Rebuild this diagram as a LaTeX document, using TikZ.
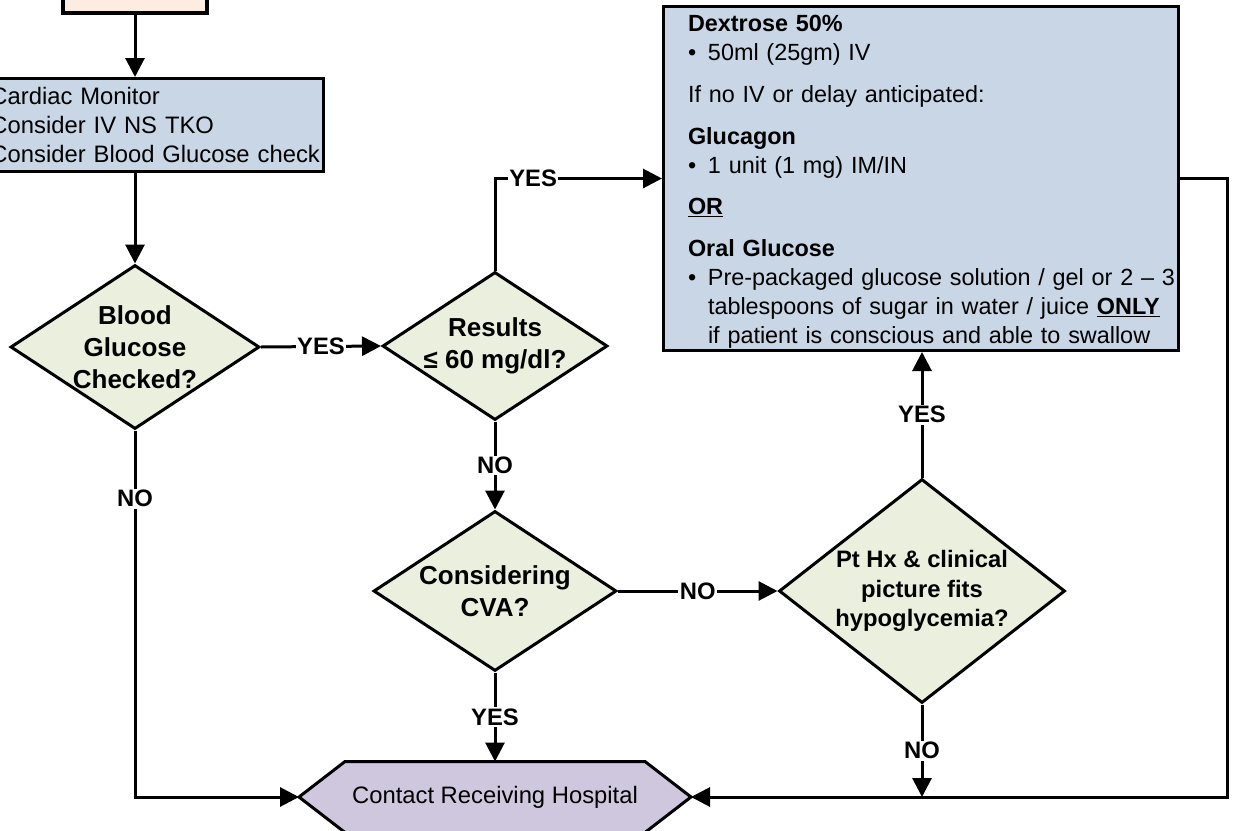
\documentclass[tikz,border=0pt]{standalone}
\usepackage{fontspec}
\setmainfont{Liberation Sans}
\usetikzlibrary{shapes.geometric,arrows.meta,backgrounds}

\definecolor{peach}{RGB}{253,236,224}
\definecolor{actblue}{RGB}{201,214,230}
\definecolor{askgreen}{RGB}{235,240,222}
\definecolor{lilac}{RGB}{207,199,222}

% bullet
\newcommand{\bul}{\noindent\makebox[20pt][l]{\textbullet}}

\begin{document}
\begin{tikzpicture}[x=1pt, y=-1pt,
    every node/.style={font=\fontsize{23.8}{28.8}\selectfont},
    box/.style={draw, line width=3pt, fill=actblue},
    decision/.style={diamond, draw, line width=3pt, fill=askgreen, inner sep=-4pt, align=center,
      font=\fontsize{26}{32}\selectfont\bfseries},
    answer/.style={fill=white, inner sep=1.5pt, font=\fontsize{23.8}{28}\selectfont\bfseries},
    flow/.style={line width=3pt, -{Triangle[length=19pt,width=19pt]}}]

  \useasboundingbox (0,0) rectangle (1234,830);

  \node[draw, line width=4pt, fill=peach, minimum width=144pt, minimum height=60pt, anchor=south] (start) at (135,15) {};

  \node[box, anchor=east, text width=330pt, inner xsep=3pt, minimum height=93pt, align=left,
    font=\fontsize{23.8}{29}\selectfont] (info) at (325,125)
    {Cardiac Monitor\\Consider IV NS TKO\\Consider Blood Glucose check};

  \node[decision, minimum width=249pt, minimum height=164pt, shape aspect=1.52] (bgc) at (135,347) {Blood\\Glucose\\Checked?};
  \node[decision, minimum width=225pt, minimum height=148pt, shape aspect=1.52] (res) at (495,346) {Results\\≤ 60 mg/dl?};
  \node[decision, minimum width=243pt, minimum height=160pt, shape aspect=1.52] (cva) at (495,591) {Considering\\CVA?};
  \node[decision, minimum width=286pt, minimum height=224pt, shape aspect=1.28,
    font=\fontsize{23.8}{29.5}\selectfont\bfseries] (pt) at (922,591)
    {Pt Hx \& clinical\\picture fits\\hypoglycemia?};

  \node[box, anchor=north west, text width=512pt, inner xsep=1.5pt, inner ysep=0pt, minimum height=344pt, align=left,
    font=\fontsize{23.4}{28.8}\selectfont] (dex) at (662,5)
    {\leftskip=23pt
     \rule{0pt}{23pt}\textbf{Dextrose 50\%}\par
     \bul 50ml (25gm) IV\par\vspace{13pt}
     If no IV or delay anticipated:\par\vspace{13pt}
     \textbf{Glucagon}\par
     \bul 1 unit (1 mg) IM/IN\par\vspace{13pt}
     \underline{\textbf{OR}}\par\vspace{13pt}
     \textbf{Oral Glucose}\par
     \bul\parbox[t]{470pt}{Pre-packaged glucose solution / gel or 2 -- 3\\
       tablespoons of sugar in water / juice \underline{\textbf{ONLY}}\\
       if patient is conscious and able to swallow}\par};

  \node[outer sep=0pt, minimum width=392pt, minimum height=71pt] (hosp) at (495,797) {Contact Receiving Hospital};
  \begin{scope}[on background layer]
    \draw[line width=3pt, fill=lilac] (hosp.west) -- ([xshift=46pt]hosp.north west) -- ([xshift=-46pt]hosp.north east)
      -- (hosp.east) -- ([xshift=-46pt]hosp.south east) -- ([xshift=46pt]hosp.south west) -- cycle;
  \end{scope}

  \coordinate (join) at (pt.south |- hosp.center);

  \draw[flow] (start) -- (start |- info.north);
  \draw[flow] (bgc |- info.south) -- (bgc.north);
  \draw[flow] (bgc.east) -- node[answer]{YES} (res.west);
  \draw[flow] (res.north) |- node[answer, pos=0.614]{YES} (dex.west);
  \draw[flow] (res.south) -- node[answer]{NO} (cva.north);
  \draw[flow] (cva.east) -- node[answer]{NO} (pt.west);
  \draw[flow] (cva.south) -- node[answer]{YES} (hosp.north);
  \draw[flow] (pt.north) -- node[answer]{YES} (pt.north |- dex.south);
  \draw[flow] (pt.south) -- node[answer]{NO} (join);
  \draw[flow] (bgc.south) |- node[answer, pos=0.093]{NO} (hosp.west);
  \draw[flow] (dex.east) -- ++(47,0) |- (hosp.east);
\end{tikzpicture}
\end{document}
